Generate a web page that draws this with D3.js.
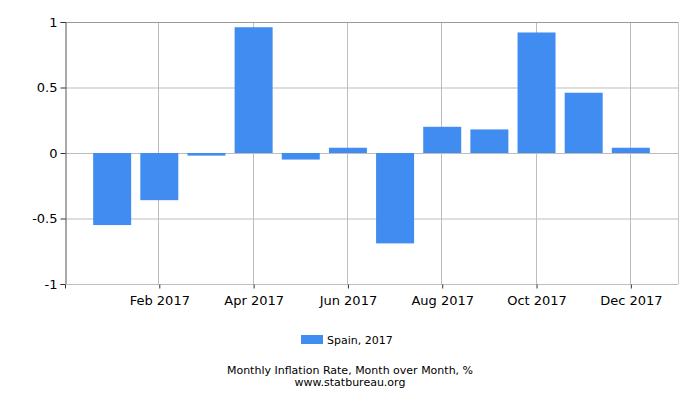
<!DOCTYPE html>
<html>
<head>
<meta charset="utf-8">
<script src="https://cdn.jsdelivr.net/npm/d3@7"></script>
<style>
  body { margin: 0; background: #fff; }
  text { font-family: "DejaVu Sans", Verdana, sans-serif; fill: #000; }
</style>
</head>
<body>
<div id="chart"></div>
<script>
// chart data
var months = ["Jan", "Feb", "Mar", "Apr", "May", "Jun", "Jul", "Aug", "Sep", "Oct", "Nov", "Dec"];
var values = [-0.55, -0.36, -0.02, 0.96, -0.05, 0.04, -0.69, 0.20, 0.18, 0.92, 0.46, 0.04];
var yTicks = [-1, -0.5, 0, 0.5, 1];
var xTickMonths = [1, 3, 5, 7, 9, 11]; // Feb, Apr, Jun, Aug, Oct, Dec
var year = 2017;
var seriesName = "Spain, 2017";
var title = "Monthly Inflation Rate, Month over Month, %";
var source = "www.statbureau.org";

var w = 700, h = 400;
var margin = { top: 22, right: 22, bottom: 116, left: 65 };

var svg = d3.select("#chart")
    .append("svg")
    .attr("width", w)
    .attr("height", h);

// month index scale, one empty slot each side
var x = d3.scaleLinear()
    .domain([-1, 12])
    .range([margin.left, w - margin.right]);

var y = d3.scaleLinear()
    .domain([-1, 1])
    .range([h - margin.bottom, margin.top]);

var barW = 38;

// grid lines
svg.append("g")
    .selectAll("line")
    .data(yTicks)
    .enter()
    .append("line")
    .attr("x1", x(-1)).attr("x2", x(12))
    .attr("y1", d => y(d) + 0.5).attr("y2", d => y(d) + 0.5)
    .attr("stroke", "#bdbdbd");

svg.append("g")
    .selectAll("line")
    .data(xTickMonths)
    .enter()
    .append("line")
    .attr("x1", d => Math.round(x(d)) - 0.5).attr("x2", d => Math.round(x(d)) - 0.5)
    .attr("y1", y(1)).attr("y2", y(-1))
    .attr("stroke", "#bdbdbd");

// frame: top darker, right light
svg.append("line")
    .attr("x1", x(-1)).attr("x2", x(12))
    .attr("y1", y(1) + 0.5).attr("y2", y(1) + 0.5)
    .attr("stroke", "#999");
svg.append("line")
    .attr("x1", x(12) + 0.5).attr("x2", x(12) + 0.5)
    .attr("y1", y(1)).attr("y2", y(-1))
    .attr("stroke", "#c8c8c8");

// bars
svg.append("g")
    .selectAll("rect")
    .data(values)
    .enter()
    .append("rect")
    .attr("x", (d, i) => x(i) - barW / 2)
    .attr("width", barW)
    .attr("y", d => y(Math.max(0, d)))
    .attr("height", d => Math.abs(y(d) - y(0)))
    .attr("fill", "#418cf0");

// y axis
var yAxis = svg.append("g")
    .attr("transform", "translate(" + (x(-1) + 0.5) + ",0)")
    .call(d3.axisLeft(y).tickValues(yTicks).tickSize(5).tickPadding(3)
        .tickFormat(d => d === 0 ? "0" : String(d)));
yAxis.select(".domain").attr("stroke", "#555");
yAxis.selectAll(".tick line").attr("stroke", "#333");
yAxis.selectAll("text").style("font-size", "13px").attr("fill", "#000");

// x axis
var xAxis = svg.append("g")
    .attr("transform", "translate(0," + (y(-1) + 0.5) + ")")
    .call(d3.axisBottom(x).tickValues([-1].concat(xTickMonths)).tickSize(4).tickPadding(7)
        .tickFormat(d => d < 0 ? "" : months[d] + " " + year));
xAxis.select(".domain").attr("stroke", "#bdbdbd").attr("d", "M" + x(-1) + ",0H" + x(12));
xAxis.selectAll(".tick line").attr("stroke", "#333");
xAxis.selectAll("text").style("font-size", "13px").attr("fill", "#000");

// legend
svg.append("rect")
    .attr("x", 301).attr("y", 335)
    .attr("width", 22).attr("height", 9)
    .attr("fill", "#418cf0");
svg.append("text")
    .attr("x", 327).attr("y", 344)
    .style("font-size", "11px")
    .text(seriesName);

// title
svg.append("text")
    .attr("x", w / 2).attr("y", 374)
    .attr("text-anchor", "middle")
    .style("font-size", "11px")
    .text(title);
svg.append("text")
    .attr("x", w / 2).attr("y", 386)
    .attr("text-anchor", "middle")
    .style("font-size", "11px")
    .text(source);
</script>
</body>
</html>
